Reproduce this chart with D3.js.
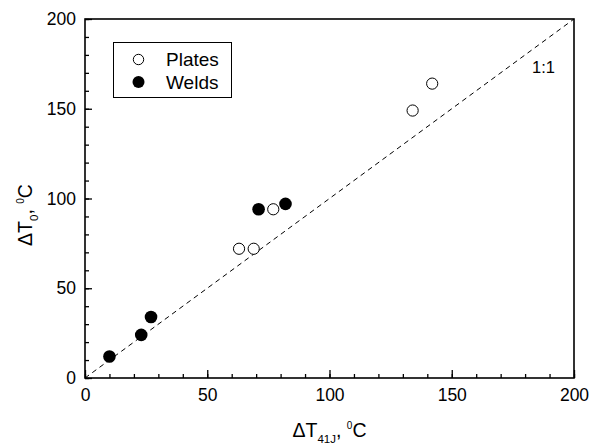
<!DOCTYPE html>
<html><head><meta charset="utf-8">
<script src="https://cdn.jsdelivr.net/npm/d3@7"></script>
<style>body{margin:0;background:#fff}text{font-family:"Liberation Sans",Arial,sans-serif;fill:#000}</style>
</head><body><svg id="c" width="590" height="445"></svg>
<script>
const platesX = [63, 69, 77, 134, 142];
const platesY = [72, 72, 94, 149, 164];
const weldsX = [10, 23, 27, 71, 82];
const weldsY = [12, 24, 34, 94, 97];
const majorTicks = [0, 50, 100, 150, 200];
const legendLabels = ["Plates", "Welds"];

const svg = d3.select("#c");
const L = 85, R = 574, T = 19, B = 378;
const x = d3.scaleLinear().domain([0, 200]).range([L, R]);
const y = d3.scaleLinear().domain([0, 200]).range([B, T]);
const minor = d3.range(0, 201, 10);

// 1:1 line
svg.append("line").attr("x1", x(0)).attr("y1", y(0)).attr("x2", x(200)).attr("y2", y(200))
  .attr("stroke", "#000").attr("stroke-width", 1).attr("stroke-dasharray", "5,4");

// ticks
const gx = svg.append("g").attr("transform", `translate(0,${B})`);
gx.call(d3.axisBottom(x).tickValues(minor).tickSize(-4).tickFormat(""));
const gx2 = svg.append("g").attr("transform", `translate(0,${B})`);
gx2.call(d3.axisBottom(x).tickValues(majorTicks).tickSize(-8).tickPadding(11).tickFormat(d3.format("d")));
const gy = svg.append("g").attr("transform", `translate(${L},0)`);
gy.call(d3.axisLeft(y).tickValues(minor).tickSize(-4).tickFormat(""));
const gy2 = svg.append("g").attr("transform", `translate(${L},0)`);
gy2.call(d3.axisLeft(y).tickValues(majorTicks).tickSize(-7).tickPadding(9).tickFormat(d3.format("d")));
svg.selectAll(".domain").remove();
svg.selectAll(".tick line").attr("stroke", "#000").attr("stroke-width", 1.3);
svg.selectAll(".tick text").attr("font-size", 17.5).attr("font-family", "Liberation Sans, Arial, sans-serif").attr("fill", "#000");

// frame
svg.append("rect").attr("x", L).attr("y", T).attr("width", R - L).attr("height", B - T)
  .attr("fill", "none").attr("stroke", "#000").attr("stroke-width", 1.6);

// points
const plates = platesX.map((v, i) => [v, platesY[i]]);
const welds = weldsX.map((v, i) => [v, weldsY[i]]);
svg.append("g").selectAll("circle").data(plates).join("circle")
  .attr("cx", d => x(d[0])).attr("cy", d => y(d[1])).attr("r", 5.6)
  .attr("fill", "#fff").attr("stroke", "#000").attr("stroke-width", 1);
svg.append("g").selectAll("circle").data(welds).join("circle")
  .attr("cx", d => x(d[0])).attr("cy", d => y(d[1])).attr("r", 6.3)
  .attr("fill", "#000");

// 1:1 label
svg.append("text").attr("x", 532).attr("y", 73).attr("font-size", 16.5).text("1:1");

// legend
svg.append("rect").attr("x", 113.5).attr("y", 42.5).attr("width", 118).attr("height", 55)
  .attr("fill", "#fff").attr("stroke", "#000").attr("stroke-width", 1);
legendLabels.forEach((lab, i) => {
  const cy = 59.5 + i * 22.5;
  svg.append("circle").attr("cx", 138.5).attr("cy", cy).attr("r", i === 0 ? 5.2 : 6)
    .attr("fill", i === 0 ? "#fff" : "#000").attr("stroke", "#000").attr("stroke-width", i === 0 ? 1 : 0);
  svg.append("text").attr("x", 166).attr("y", cy + 6.8).attr("font-size", 19).text(lab);
});

// x label
const xl = svg.append("text").attr("x", (L + R) / 2).attr("y", 436.5).attr("text-anchor", "middle").attr("font-size", 19.5);
xl.append("tspan").text("ΔT");
xl.append("tspan").attr("font-size", 11.5).attr("dy", 6).text("41J");
xl.append("tspan").attr("dy", -6).text(", ");
xl.append("tspan").attr("font-size", 10).attr("dy", -8).text("0");
xl.append("tspan").attr("dy", 8).text("C");

// y label
const yl = svg.append("text").attr("transform", "translate(32,215) rotate(-90)").attr("text-anchor", "middle").attr("font-size", 19.5);
yl.append("tspan").text("ΔT");
yl.append("tspan").attr("font-size", 11.5).attr("dy", 6).text("0");
yl.append("tspan").attr("dy", -6).text(", ");
yl.append("tspan").attr("font-size", 10).attr("dy", -8).text("0");
yl.append("tspan").attr("dy", 8).text("C");
</script></body></html>
